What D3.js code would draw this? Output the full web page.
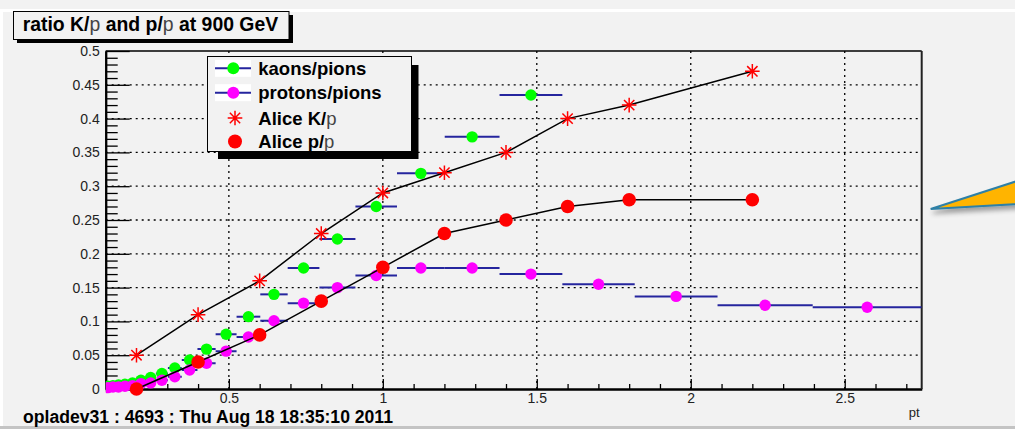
<!DOCTYPE html>
<html>
<head>
<meta charset="utf-8">
<script src="https://cdn.jsdelivr.net/npm/d3@7"></script>
<style>
body { margin: 0; background: #f2f2f2; }
svg { display: block; font-family: "Liberation Sans", Arial, sans-serif; }
</style>
</head>
<body>
<svg id="chart" width="1015" height="429"></svg>
<script>
// pt bin edges (the blue horizontal bars)
var binEdges = [0.100, 0.115, 0.132, 0.151, 0.174, 0.200, 0.229, 0.263, 0.302, 0.347,
  0.398, 0.457, 0.525, 0.602, 0.691, 0.794, 0.911, 1.046, 1.201, 1.379,
  1.583, 1.818, 2.087, 2.396, 2.750];
// kaons/pions per bin (null = empty bin)
var kaonRatio = [0.004, 0.005, 0.006, 0.007, 0.009, 0.013, 0.017, 0.023, 0.031, 0.043,
  0.059, 0.081, 0.107, 0.140, 0.179, 0.222, 0.270, 0.319, 0.373, 0.435,
  null, null, null, null];
// protons/pions per bin
var protonRatio = [0.002, 0.003, 0.003, 0.004, 0.005, 0.008, 0.009, 0.013, 0.018, 0.028,
  0.038, 0.056, 0.077, 0.101, 0.127, 0.150, 0.168, 0.179, 0.179, 0.170,
  0.155, 0.137, 0.124, 0.121];
// Alice points
var alicePt = [0.2, 0.4, 0.6, 0.8, 1.0, 1.2, 1.4, 1.6, 1.8, 2.2];
var aliceK = [0.05, 0.11, 0.16, 0.23, 0.29, 0.32, 0.35, 0.40, 0.42, 0.47];
var aliceP = [0.00, 0.04, 0.08, 0.13, 0.18, 0.23, 0.25, 0.27, 0.28, 0.28];

var xTicks = [0.5, 1, 1.5, 2, 2.5];
var yTicks = [0, 0.05, 0.1, 0.15, 0.2, 0.25, 0.3, 0.35, 0.4, 0.45, 0.5];

var frameL = 105.7, frameR = 921.7, frameT = 51, frameB = 389;
var blueBar = "#25259e";

var svg = d3.select("#chart");
var x = d3.scaleLinear().domain([0.1, 2.75]).range([frameL, frameR]);
var y = d3.scaleLinear().domain([0, 0.5]).range([frameB, frameT]);

// canvas edges
svg.append("rect").attr("x", 0).attr("y", 0).attr("width", 1015).attr("height", 429).attr("fill", "#f2f2f2");
svg.append("rect").attr("x", 3).attr("y", 9).attr("width", 1012).attr("height", 3).attr("fill", "#fff");
svg.append("rect").attr("x", 0).attr("y", 9).attr("width", 3).attr("height", 417).attr("fill", "#fff");
svg.append("rect").attr("x", 0).attr("y", 426).attr("width", 1015).attr("height", 3).attr("fill", "#c4c4c4");

var defs = svg.append("defs");
defs.append("clipPath").attr("id", "frameClip")
  .append("rect").attr("x", frameL).attr("y", frameT - 10).attr("width", frameR - frameL).attr("height", frameB - frameT + 20);
var shadow = defs.append("filter").attr("id", "shade").attr("x", "-20%").attr("y", "-50%").attr("width", "140%").attr("height", "250%");
shadow.append("feGaussianBlur").attr("in", "SourceAlpha").attr("stdDeviation", 2.5);
shadow.append("feOffset").attr("dx", 2).attr("dy", 4).attr("result", "off");
shadow.append("feComponentTransfer").append("feFuncA").attr("type", "linear").attr("slope", 0.35);
var merge = shadow.append("feMerge");
merge.append("feMergeNode");
merge.append("feMergeNode").attr("in", "SourceGraphic");

// grid
var grid = svg.append("g").attr("stroke", "#000").attr("stroke-width", 1.3).attr("stroke-dasharray", "2,4");
grid.selectAll(".hg").data(yTicks.filter(function (d) { return d > 0 && d < 0.5; })).enter()
  .append("line")
  .attr("x1", frameL).attr("x2", frameR)
  .attr("y1", function (d) { return y(d); }).attr("y2", function (d) { return y(d); });
grid.selectAll(".vg").data(xTicks).enter()
  .append("line")
  .attr("y1", frameT).attr("y2", frameB)
  .attr("x1", function (d) { return x(d); }).attr("x2", function (d) { return x(d); });

// axes with ROOT-style inward ticks
var xMinor = d3.range(0.2, 2.75, 0.1).filter(function (d) { return Math.abs(d * 2 - Math.round(d * 2)) > 1e-6; });
var yMinor = d3.range(0.01, 0.5, 0.01).filter(function (d) { return Math.abs(d * 20 - Math.round(d * 20)) > 1e-6; });
var fmt = function (d) { return String(+d.toFixed(2)); };

var xAxis = svg.append("g").attr("transform", "translate(0," + frameB + ")")
  .call(d3.axisBottom(x).tickValues(xTicks).tickSizeInner(-10).tickSizeOuter(0).tickPadding(4).tickFormat(fmt));
svg.append("g").attr("transform", "translate(0," + frameB + ")")
  .call(d3.axisBottom(x).tickValues(xMinor).tickSizeInner(-5).tickSizeOuter(0).tickFormat(""));
var yAxis = svg.append("g").attr("transform", "translate(" + frameL + ",0)")
  .call(d3.axisLeft(y).tickValues(yTicks).tickSizeInner(-24).tickSizeOuter(0).tickPadding(6).tickFormat(fmt));
svg.append("g").attr("transform", "translate(" + frameL + ",0)")
  .call(d3.axisLeft(y).tickValues(yMinor).tickSizeInner(-12).tickSizeOuter(0).tickFormat(""));
svg.selectAll(".domain").attr("stroke", "#000").attr("stroke-width", 2);
svg.selectAll(".tick line").attr("stroke", "#000").attr("stroke-width", 1.3);
xAxis.selectAll("text").attr("font-size", 14).attr("fill", "#222").attr("font-family", "Liberation Sans, Arial, sans-serif");
yAxis.selectAll("text").attr("font-size", 14).attr("fill", "#222").attr("font-family", "Liberation Sans, Arial, sans-serif");

// frame top/right
svg.append("line").attr("x1", frameL).attr("x2", frameR).attr("y1", frameT).attr("y2", frameT).attr("stroke", "#000").attr("stroke-width", 1.5);
svg.append("line").attr("x1", frameR).attr("x2", frameR).attr("y1", frameT).attr("y2", frameB).attr("stroke", "#222").attr("stroke-width", 2);

svg.append("text").attr("x", frameR - 2).attr("y", 417).attr("text-anchor", "end")
  .attr("font-size", 13).attr("fill", "#222").text("pt");

// histograms
var plot = svg.append("g").attr("clip-path", "url(#frameClip)");
function drawHisto(values, color) {
  var bins = values.map(function (v, i) {
    return { lo: binEdges[i], hi: binEdges[i + 1], v: v };
  }).filter(function (b) { return b.v !== null; });
  plot.append("g").selectAll("line").data(bins).enter().append("line")
    .attr("x1", function (b) { return x(b.lo); })
    .attr("x2", function (b) { return x(b.hi); })
    .attr("y1", function (b) { return y(b.v); })
    .attr("y2", function (b) { return y(b.v); })
    .attr("stroke", blueBar).attr("stroke-width", 2);
  plot.append("g").selectAll("circle").data(bins).enter().append("circle")
    .attr("cx", function (b) { return x((b.lo + b.hi) / 2); })
    .attr("cy", function (b) { return y(b.v); })
    .attr("r", 5.7).attr("fill", color);
}
drawHisto(kaonRatio, "#00ff00");
drawHisto(protonRatio, "#ff00ff");

// Alice graphs
var line = d3.line().x(function (d) { return x(d[0]); }).y(function (d) { return y(d[1]); });
var kPts = alicePt.map(function (p, i) { return [p, aliceK[i]]; });
var pPts = alicePt.map(function (p, i) { return [p, aliceP[i]]; });
plot.append("path").attr("d", line(kPts)).attr("fill", "none").attr("stroke", "#000").attr("stroke-width", 1.5);
plot.append("path").attr("d", line(pPts)).attr("fill", "none").attr("stroke", "#000").attr("stroke-width", 1.5);

function starPath(cx, cy, r) {
  var d = "";
  [0, 45, 90, 135].forEach(function (a) {
    var rad = a * Math.PI / 180;
    var dx = Math.cos(rad) * r, dy = Math.sin(rad) * r;
    d += "M" + (cx - dx) + "," + (cy - dy) + "L" + (cx + dx) + "," + (cy + dy);
  });
  return d;
}
plot.append("g").selectAll("path").data(kPts).enter().append("path")
  .attr("d", function (d) { return starPath(x(d[0]), y(d[1]), 7.3); })
  .attr("stroke", "#ff0000").attr("stroke-width", 1.5).attr("fill", "none");
svg.append("g").selectAll("circle").data(pPts).enter().append("circle")
  .attr("cx", function (d) { return x(d[0]); })
  .attr("cy", function (d) { return y(d[1]); })
  .attr("r", 6.8).attr("fill", "#ff0000");

// legend
var lg = svg.append("g");
lg.append("rect").attr("x", 218).attr("y", 65).attr("width", 200.5).attr("height", 94).attr("fill", "#000");
lg.append("rect").attr("x", 207.5).attr("y", 56.5).attr("width", 204).attr("height", 95).attr("fill", "#f2f2f2").attr("stroke", "#000").attr("stroke-width", 1);
var entries = [
  { label: "kaons/pions", greek: "", type: "histo", color: "#00ff00", cy: 68.3 },
  { label: "protons/pions", greek: "", type: "histo", color: "#ff00ff", cy: 92.7 },
  { label: "Alice K/", greek: "p", type: "star", color: "#ff0000", cy: 118 },
  { label: "Alice p/", greek: "p", type: "dot", color: "#ff0000", cy: 141.5 }
];
entries.forEach(function (e) {
  if (e.type === "histo") {
    lg.append("rect").attr("x", 215).attr("y", e.cy - 8.5).attr("width", 36).attr("height", 17).attr("fill", "#fff");
    lg.append("line").attr("x1", 215).attr("x2", 251).attr("y1", e.cy).attr("y2", e.cy).attr("stroke", blueBar).attr("stroke-width", 2);
    lg.append("circle").attr("cx", 233.3).attr("cy", e.cy).attr("r", 6).attr("fill", e.color);
  } else if (e.type === "star") {
    lg.append("path").attr("d", starPath(235, e.cy, 7.3)).attr("stroke", e.color).attr("stroke-width", 1.5);
  } else {
    lg.append("circle").attr("cx", 235).attr("cy", e.cy).attr("r", 7).attr("fill", e.color);
  }
  var t = lg.append("text").attr("x", 258.3).attr("y", e.cy + 6.5).attr("font-size", 18.5).attr("font-weight", "bold").attr("fill", "#000");
  t.append("tspan").text(e.label);
  if (e.greek) t.append("tspan").attr("font-weight", "normal").attr("fill", "#444").text(e.greek);
});

// title box
svg.append("rect").attr("x", 17).attr("y", 15).attr("width", 276).attr("height", 28).attr("fill", "#000");
svg.append("rect").attr("x", 13.5).attr("y", 11.5).attr("width", 275.5).attr("height", 28).attr("fill", "#f2f2f2").attr("stroke", "#000").attr("stroke-width", 1);
var title = svg.append("text").attr("x", 22.7).attr("y", 31).attr("font-size", 19.4).attr("font-weight", "bold").attr("fill", "#000");
title.append("tspan").text("ratio K/");
title.append("tspan").attr("font-weight", "normal").attr("fill", "#444").text("p");
title.append("tspan").text(" and p/");
title.append("tspan").attr("font-weight", "normal").attr("fill", "#444").text("p");
title.append("tspan").text(" at 900 GeV");

// footer stamp
svg.append("text").attr("x", 23).attr("y", 423).attr("font-size", 17.6).attr("font-weight", "bold").attr("fill", "#000")
  .text("opladev31 : 4693 : Thu Aug 18 18:35:10 2011");

// orange arrow tip at the right edge
svg.append("polygon")
  .attr("points", [[930.7, 209], [1018, 180.7], [1018, 204]].map(function (p) { return p.join(","); }).join(" "))
  .attr("fill", "#ffb400").attr("stroke", "#2f80a6").attr("stroke-width", 2.2).attr("stroke-linejoin", "miter")
  .attr("filter", "url(#shade)");
</script>
</body>
</html>
